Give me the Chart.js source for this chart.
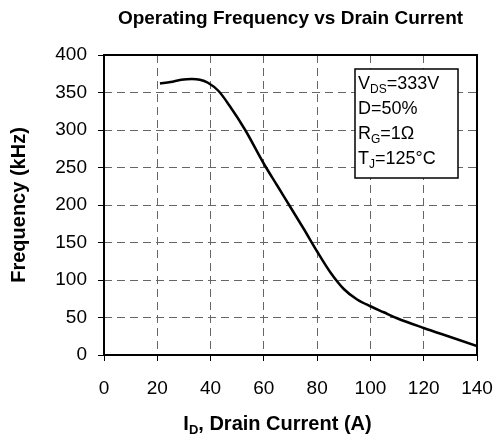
<!DOCTYPE html>
<html>
<head>
<meta charset="utf-8">
<script src="https://cdn.jsdelivr.net/npm/chart.js@4/dist/chart.umd.min.js"></script>
<style>
  html, body { margin: 0; padding: 0; background: #fff; }
  #wrap { width: 495px; height: 436px; }
</style>
</head>
<body>
<div id="wrap"><canvas id="c" width="495" height="436"></canvas></div>
<script>
// Drain current (A) and operating frequency (kHz)
const currentA = [21, 25, 29, 33, 36, 39, 43, 47, 53, 60, 65, 70, 75, 80, 85, 90, 95, 100, 105, 110, 120, 130, 140];
const freqKHz  = [362, 364, 367, 368, 367, 363, 352, 333, 300, 255, 226, 197, 168, 138, 110, 88, 74, 65, 57, 49, 36, 24, 12];

const xTicks = [0, 20, 40, 60, 80, 100, 120, 140];
const yTicks = [0, 50, 100, 150, 200, 250, 300, 350, 400];

const titleText = 'Operating Frequency vs Drain Current';
const yTitle = 'Frequency (kHz)';
const xTitleParts = [['I', false], ['D', true], [', Drain Current (A)', false]];
const conditions = [
    [['V', false], ['DS', true], ['=333V', false]],
    [['D=50%', false]],
    [['R', false], ['G', true], ['=1\u03A9', false]],
    [['T', false], ['J', true], ['=125\u00B0C', false]],
];

const FONT = '"Liberation Sans", Arial, sans-serif';

// text runs with subscripts
function runsWidth(ctx, parts, size, weight) {
    let w = 0;
    parts.forEach(function (p) {
        ctx.font = (weight ? weight + ' ' : '') + (p[1] ? Math.round(size * 0.65) : size) + 'px ' + FONT;
        w += ctx.measureText(p[0]).width;
    });
    return w;
}
function drawRuns(ctx, parts, x, y, size, weight) {
    parts.forEach(function (p) {
        const s = p[1] ? Math.round(size * 0.65) : size;
        ctx.font = (weight ? weight + ' ' : '') + s + 'px ' + FONT;
        ctx.fillText(p[0], x, p[1] ? y + size * 0.2 : y);
        x += ctx.measureText(p[0]).width;
    });
}

const decorPlugin = {
    id: 'decor',
    afterDatasetsDraw: function (chart) {
        const ctx = chart.ctx;
        const a = chart.chartArea;
        ctx.save();

        // frame round the plot
        ctx.strokeStyle = '#000';
        ctx.lineWidth = 2;
        ctx.setLineDash([]);
        ctx.strokeRect(a.left, a.top, a.right - a.left, a.bottom - a.top);

        // conditions box
        const bx = a.left + 251, by = a.top + 14, bw = 103, bh = 109;
        ctx.fillStyle = '#fff';
        ctx.fillRect(bx, by, bw, bh);
        ctx.lineWidth = 1.5;
        ctx.strokeRect(bx, by, bw, bh);
        ctx.fillStyle = '#000';
        ctx.textBaseline = 'alphabetic';
        ctx.textAlign = 'left';
        conditions.forEach(function (line, i) {
            drawRuns(ctx, line, bx + 3, by + 20 + i * 25, 18, '');
        });

        // chart title
        ctx.font = 'bold 19px ' + FONT;
        ctx.textAlign = 'center';
        ctx.fillText(titleText, (a.left + a.right) / 2, 24);

        // y axis title
        ctx.save();
        ctx.translate(25, (a.top + a.bottom) / 2);
        ctx.rotate(-Math.PI / 2);
        ctx.font = 'bold 20px ' + FONT;
        ctx.textAlign = 'center';
        ctx.fillText(yTitle, 0, 0);
        ctx.restore();

        // x axis title
        ctx.textAlign = 'left';
        const w = runsWidth(ctx, xTitleParts, 20, 'bold');
        drawRuns(ctx, xTitleParts, (a.left + a.right) / 2 - 13 - w / 2, 430, 20, 'bold');

        ctx.restore();
    }
};

const gridOpts = {
    color: '#666', lineWidth: 1,
    tickLength: 6, tickColor: '#000', tickBorderDash: [], tickWidth: 1,
};

new Chart(document.getElementById('c'), {
    type: 'line',
    data: {
        datasets: [{
            data: currentA.map(function (x, i) { return { x: x, y: freqKHz[i] }; }),
            borderColor: '#000',
            borderWidth: 2.5,
            pointRadius: 0,
            cubicInterpolationMode: 'monotone',
            fill: false,
        }],
    },
    options: {
        responsive: false,
        animation: false,
        devicePixelRatio: 1,
        layout: { padding: { top: 55, right: 18, left: 0, bottom: 0 } },
        plugins: {
            legend: { display: false },
            title: { display: false },
            tooltip: { enabled: false },
        },
        scales: {
            x: {
                type: 'linear',
                min: 0,
                max: 140,
                afterBuildTicks: function (s) { s.ticks = xTicks.map(function (v) { return { value: v }; }); },
                afterFit: function (s) { s.height = 81; s.paddingLeft = 0; s.paddingRight = 0; },
                ticks: { color: '#000', font: { size: 19, family: FONT }, padding: 16, maxRotation: 0 },
                grid: gridOpts,
                border: { display: false, dash: [8, 5] },
            },
            y: {
                min: 0,
                max: 400,
                afterBuildTicks: function (s) { s.ticks = yTicks.map(function (v) { return { value: v }; }); },
                afterFit: function (s) { s.width = 104; s.paddingTop = 0; s.paddingBottom = 0; },
                ticks: { color: '#000', font: { size: 19, family: FONT }, padding: 11 },
                grid: gridOpts,
                border: { display: false, dash: [8, 5] },
            },
        },
    },
    plugins: [decorPlugin],
});
</script>
</body>
</html>
